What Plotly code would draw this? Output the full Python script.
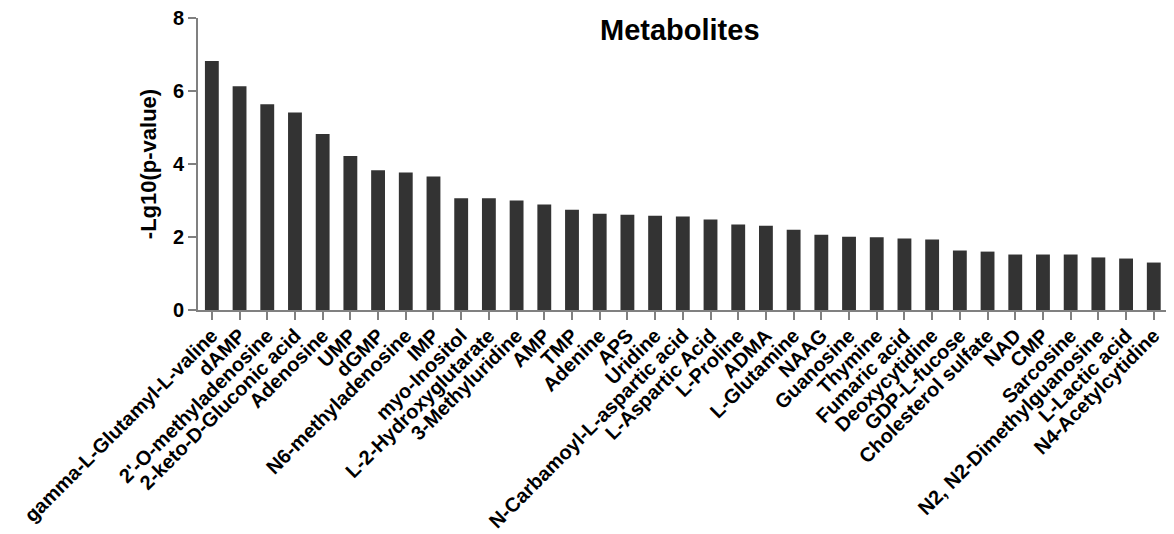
import plotly.graph_objects as go

metabolites = [
    "gamma-L-Glutamyl-L-valine", "dAMP", "2'-O-methyladenosine", "2-keto-D-Gluconic acid",
    "Adenosine", "UMP", "dGMP", "N6-methyladenosine", "IMP", "myo-Inositol",
    "L-2-Hydroxyglutarate", "3-Methyluridine", "AMP", "TMP", "Adenine", "APS", "Uridine",
    "N-Carbamoyl-L-aspartic acid", "L-Aspartic Acid", "L-Proline", "ADMA", "L-Glutamine",
    "NAAG", "Guanosine", "Thymine", "Fumaric acid", "Deoxycytidine", "GDP-L-fucose",
    "Cholesterol sulfate", "NAD", "CMP", "Sarcosine", "N2, N2-Dimethylguanosine",
    "L-Lactic acid", "N4-Acetylcytidine",
]
neg_lg10_p = [
    6.82, 6.13, 5.64, 5.41, 4.82, 4.22, 3.83, 3.77, 3.66, 3.06,
    3.06, 3.00, 2.89, 2.75, 2.64, 2.61, 2.58, 2.56, 2.48, 2.34,
    2.31, 2.20, 2.06, 2.01, 1.99, 1.96, 1.93, 1.63, 1.60, 1.52,
    1.52, 1.52, 1.44, 1.41, 1.30,
]
y_ticks = [0, 2, 4, 6, 8]

font_family = "Arial, Liberation Sans, sans-serif"
axis_gray = "#808080"

fig = go.Figure(go.Bar(
    x=list(range(len(metabolites))),
    y=neg_lg10_p,
    marker=dict(color="#333333", line=dict(width=0)),
    width=0.5,
))

fig.update_layout(
    width=1166, height=526,
    margin=dict(l=190, r=0, t=10, b=224),
    plot_bgcolor="white", paper_bgcolor="white",
    showlegend=False,
    font=dict(family=font_family, color="black"),
    annotations=[dict(
        text="<b>Metabolites</b>", x=0.494, y=0.959, xref="paper", yref="paper",
        xanchor="center", yanchor="middle",
        showarrow=False, font=dict(size=29, family=font_family, color="black"),
    )],
)

fig.update_xaxes(
    range=[-0.5, 34.73],
    automargin=False,
    tickmode="array",
    tickvals=list(range(len(metabolites))),
    ticktext=["<b>" + m + "</b>" for m in metabolites],
    tickangle=-45,
    tickfont=dict(size=20, family=font_family, color="black"),
    ticklabeloverflow="allow",
    ticklabelstandoff=-4,
    showline=True, linecolor=axis_gray, linewidth=2,
    ticks="outside", ticklen=8, tickwidth=2, tickcolor=axis_gray,
    showgrid=False, zeroline=False,
)
fig.update_yaxes(
    range=[0, 8],
    automargin=False,
    tickmode="array", tickvals=y_ticks,
    ticktext=["<b>%d</b>" % v for v in y_ticks],
    tickfont=dict(size=20, family=font_family, color="black"),
    ticklabeloverflow="allow",
    title=dict(text="<b>-Lg10(p-value)</b>", font=dict(size=22, family=font_family, color="black"), standoff=10),
    showline=True, linecolor=axis_gray, linewidth=2,
    ticks="outside", ticklen=8, tickwidth=2, tickcolor=axis_gray,
    showgrid=False, zeroline=False,
)

fig.write_html("out.html")
